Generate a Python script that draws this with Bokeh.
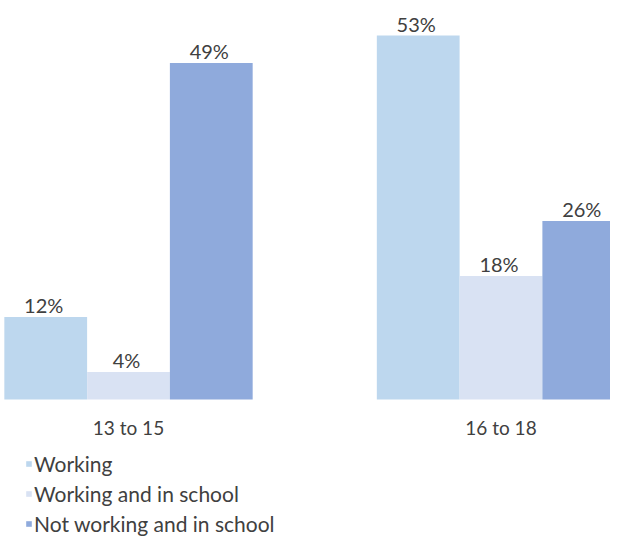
import numpy as np
from bokeh.plotting import figure
from bokeh.models import Range1d, FixedTicker, Legend, LegendItem, ColumnDataSource
from bokeh.core.properties import value
from bokeh.embed import file_html
from bokeh.resources import INLINE

# ---- data ----
age_groups = ["13 to 15", "16 to 18"]
series_names = ["Working", "Working and in school", "Not working and in school"]
working = [12, 53]
working_and_school = [4, 18]
not_working_school = [49, 26]
series_values = [working, working_and_school, not_working_school]
colors = ["#BDD7EE", "#D9E2F3", "#8FAADC"]

FONT = "Lato"
TXT = "#404040"
BAR_W = 1 / 4.5

p = figure(width=610, height=537, output_backend="svg", toolbar_location=None,
           x_range=Range1d(-128 / 372.5, 482 / 372.5), y_range=Range1d(-20.09, 58.10),
           y_axis_location=None,
           min_border_left=0, min_border_right=0, min_border_top=0, min_border_bottom=0)
p.grid.visible = False
p.outline_line_color = None
p.background_fill_color = "white"

group_pos = np.arange(len(age_groups))
offsets = (np.arange(len(series_names)) - 1) * BAR_W

items = []
for i, (name, vals, col) in enumerate(zip(series_names, series_values, colors)):
    src = ColumnDataSource(dict(x=group_pos + offsets[i], top=vals,
                                label=[f"{v}%" for v in vals]))
    r = p.vbar(x="x", top="top", bottom=0, width=BAR_W, source=src,
               fill_color=col, line_color=None)
    p.text(x="x", y="top", text="label", source=src, text_align="center",
           text_baseline="alphabetic", x_offset=-2, y_offset=-12,
           text_font=value(FONT), text_font_size="20px", text_color=TXT)
    items.append(LegendItem(label=name, renderers=[r]))

ax = p.xaxis[0]
ax.fixed_location = 0
ax.ticker = FixedTicker(ticks=list(group_pos))
ax.major_label_overrides = {int(i): g for i, g in zip(group_pos, age_groups)}
ax.axis_line_color = None
ax.major_tick_line_color = None
ax.minor_tick_line_color = None
ax.major_tick_out = 0
ax.major_tick_in = 0
ax.major_label_standoff = 16
ax.major_label_text_font = FONT
ax.major_label_text_font_size = "19px"
ax.major_label_text_color = TXT

legend = Legend(items=items, location=(25, 1), orientation="vertical",
                margin=0, padding=0, spacing=5, glyph_width=7, glyph_height=7,
                label_standoff=2, label_height=24,
                label_text_font=FONT, label_text_font_size="21px",
                label_text_color=TXT, border_line_color=None,
                background_fill_alpha=0)
p.add_layout(legend, "center")

open("out.html", "w").write(file_html(p, INLINE))
